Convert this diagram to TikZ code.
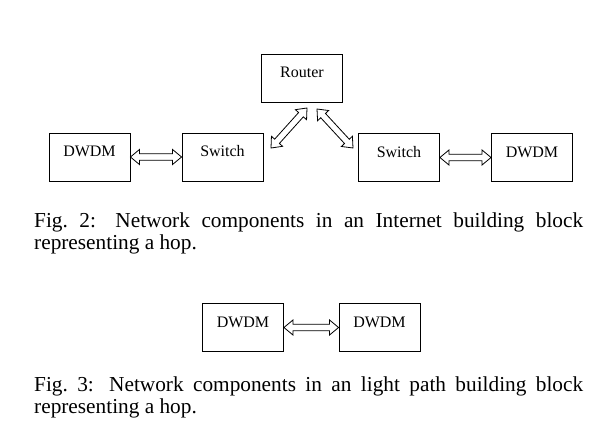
\documentclass[tikz,border=0pt]{standalone}
\usepackage{fontspec}
\setmainfont{Liberation Serif}
\usetikzlibrary{calc}
% hollow block arrow with a head at both ends
\newcommand\hoparrow[2]{%
\coordinate (ha) at ($(#1)!9pt!(#2)$);
\coordinate (hb) at ($(#2)!9pt!(#1)$);
\draw[link] (#1) -- ($(ha)!7.5pt!90:(#2)$) -- ($(ha)!3.2pt!90:(#2)$) -- ($(hb)!3.2pt!-90:(#1)$) -- ($(hb)!7.5pt!-90:(#1)$) -- (#2) -- ($(hb)!7.5pt!90:(#1)$) -- ($(hb)!3.2pt!90:(#1)$) -- ($(ha)!3.2pt!-90:(#2)$) -- ($(ha)!7.5pt!-90:(#2)$) -- cycle;}
\begin{document}
\begin{tikzpicture}[x=1pt,y=-1pt,box/.style={draw, line width=0.9pt, minimum width=81pt, minimum height=48pt, inner sep=0pt, font=\fontsize{16}{16}\selectfont, text height=11pt, text depth=11pt},link/.style={line width=0.8pt, line join=miter},caption/.style={anchor=base west, inner sep=0pt, text width=549pt, align=justify, font=\fontsize{21.3}{22}\selectfont}]
\useasboundingbox (0,0) rectangle (598,438);
% Fig. 2: one hop
\node[box] (dwdmA) at (89.5,157) {DWDM};
\node[box] (switchA) at (222.5,157) {Switch};
\node[box] (router) at (302,78) {Router};
\node[box] (switchB) at (399,157.5) {Switch};
\node[box] (dwdmB) at (532,157.5) {DWDM};
\coordinate (upA) at (271,148);
\coordinate (upB) at (307,108);
\coordinate (downA) at (317,109);
\coordinate (downB) at (353,148);
\hoparrow{dwdmA.east}{switchA.west}
\hoparrow{upA}{upB}
\hoparrow{downA}{downB}
\hoparrow{switchB.east}{dwdmB.west}
\node[caption] (capA) at (34,228) {Fig.~2: Network components in an Internet building block\linebreak representing a hop.};
% Fig. 3: light path
\node[box] (dwdmC) at (243,327.5) {DWDM};
\node[box] (dwdmD) at (379.5,327.5) {DWDM};
\hoparrow{dwdmC.east}{dwdmD.west}
\node[caption] (capB) at (34,392) {Fig.~3: Network components in an light path building block\linebreak representing a hop.};
\end{tikzpicture}
\end{document}
